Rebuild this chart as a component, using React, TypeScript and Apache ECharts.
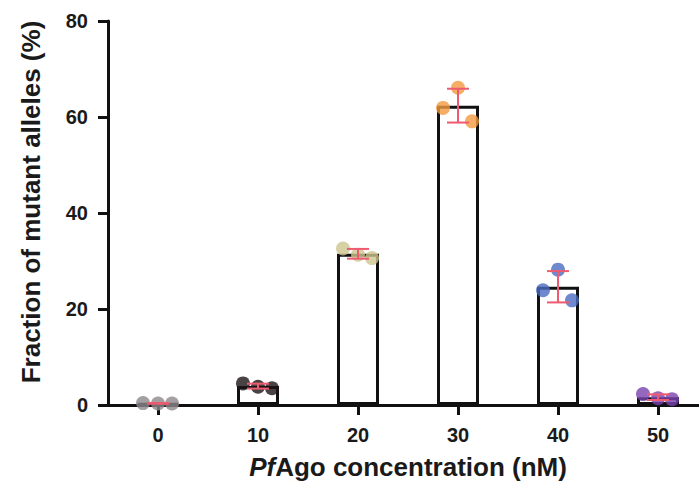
import React, { useEffect, useRef } from "react";
import * as echarts from "echarts";

const concentrations = [0, 10, 20, 30, 40, 50];
const tickLabels = ["0", "10", "20", "30", "40", "50"];
const rep1 = [0.4, 4.5, 32.6, 61.9, 23.9, 2.3];
const rep2 = [0.3, 3.8, 31.3, 66.1, 28.2, 1.4];
const rep3 = [0.3, 3.5, 30.6, 59.1, 21.8, 1.2];
const pointColors = ["#8d878c", "#1c1416", "#cdc68c", "#f29a3e", "#4a6cc0", "#7b42b0"];
const jitterPx = [-15, 0, 14];
const yTicks = [0, 20, 40, 60, 80];

const FONT = "'Liberation Sans', Arial, Helvetica, sans-serif";

function mean(a: number[]) {
  return a.reduce((s, v) => s + v, 0) / a.length;
}
function sd(a: number[]) {
  const m = mean(a);
  return Math.sqrt(a.reduce((s, v) => s + (v - m) * (v - m), 0) / (a.length - 1));
}

export default function App() {
  const ref = useRef<HTMLDivElement>(null);
  useEffect(() => {
    if (!ref.current) return;
    document.body.style.margin = "0";
    const chart = echarts.init(ref.current, undefined, { renderer: "svg" });
    const reps = [rep1, rep2, rep3];
    const groups = concentrations.map((_, i) => reps.map((r) => r[i]));
    const means = groups.map(mean);
    const sds = groups.map(sd);

    const scatterData: any[] = [];
    concentrations.forEach((c, i) => {
      reps.forEach((r, k) => {
        scatterData.push({
          value: [c, r[i]],
          symbolOffset: [jitterPx[k], 0],
          itemStyle: { color: pointColors[i] },
        });
      });
    });

    chart.setOption({
      animation: false,
      grid: { left: 108, right: 0, top: 21, bottom: 90, containLabel: false },
      xAxis: {
        type: "value",
        min: -5,
        max: 54.1,
        splitLine: { show: false },
        axisLine: { show: true, onZero: false, lineStyle: { color: "#111", width: 3 } },
        axisTick: {
          show: true,
          customValues: concentrations,
          length: 10,
          lineStyle: { color: "#111", width: 3 },
        },
        axisLabel: {
          customValues: concentrations,
          formatter: (v: number) => tickLabels[concentrations.indexOf(v)] ?? "",
          margin: 20,
          fontSize: 20,
          fontWeight: "bold",
          fontFamily: FONT,
          color: "#1a1a1a",
        },
      },
      yAxis: {
        type: "value",
        min: 0,
        max: 80,
        interval: 20,
        splitLine: { show: false },
        axisLine: { show: true, onZero: false, lineStyle: { color: "#111", width: 3 } },
        axisTick: { show: true, length: 10, lineStyle: { color: "#111", width: 3 } },
        axisLabel: {
          customValues: yTicks,
          margin: 20,
          fontSize: 20,
          fontWeight: "bold",
          fontFamily: FONT,
          color: "#1a1a1a",
        },
      },
      series: [
        {
          type: "bar",
          data: concentrations.map((c, i) => [c, means[i]]),
          barWidth: 42,
          itemStyle: { color: "#ffffff", borderColor: "#111", borderWidth: 3 },
          z: 2,
        },
        {
          type: "scatter",
          data: scatterData,
          symbol: "circle",
          symbolSize: 14,
          z: 3,
        },
        {
          type: "custom",
          z: 4,
          data: concentrations.map((c, i) => [c, means[i], sds[i]]),
          renderItem: (params: any, api: any) => {
            const x = api.value(0);
            const m = api.value(1);
            const s = api.value(2);
            const top = api.coord([x, m + s]);
            const bot = api.coord([x, m - s]);
            const half = 11;
            const style = { stroke: "#ee5b70", lineWidth: 2 };
            return {
              type: "group",
              children: [
                { type: "line", shape: { x1: top[0], y1: top[1], x2: bot[0], y2: bot[1] }, style },
                { type: "line", shape: { x1: top[0] - half, y1: top[1], x2: top[0] + half, y2: top[1] }, style },
                { type: "line", shape: { x1: bot[0] - half, y1: bot[1], x2: bot[0] + half, y2: bot[1] }, style },
              ],
            };
          },
        },
      ],
      graphic: [
        {
          type: "text",
          x: 31,
          y: 202,
          rotation: Math.PI / 2,
          style: {
            text: "Fraction of mutant alleles (%)",
            fontSize: 26,
            fontWeight: "bold",
            fontFamily: FONT,
            fill: "#1a1a1a",
            textAlign: "center",
            textVerticalAlign: "middle",
          },
        },
        {
          type: "text",
          x: 408,
          y: 467,
          style: {
            text: "{i|Pf}Ago concentration (nM)",
            fontSize: 26,
            fontWeight: "bold",
            fontFamily: FONT,
            fill: "#1a1a1a",
            textAlign: "center",
            textVerticalAlign: "middle",
            rich: {
              i: { fontStyle: "italic", fontSize: 26, fontWeight: "bold", fontFamily: FONT, fill: "#1a1a1a" },
            },
          },
        },
      ],
    });
    return () => chart.dispose();
  }, []);
  return <div ref={ref} style={{ width: 699, height: 495 }} />;
}
